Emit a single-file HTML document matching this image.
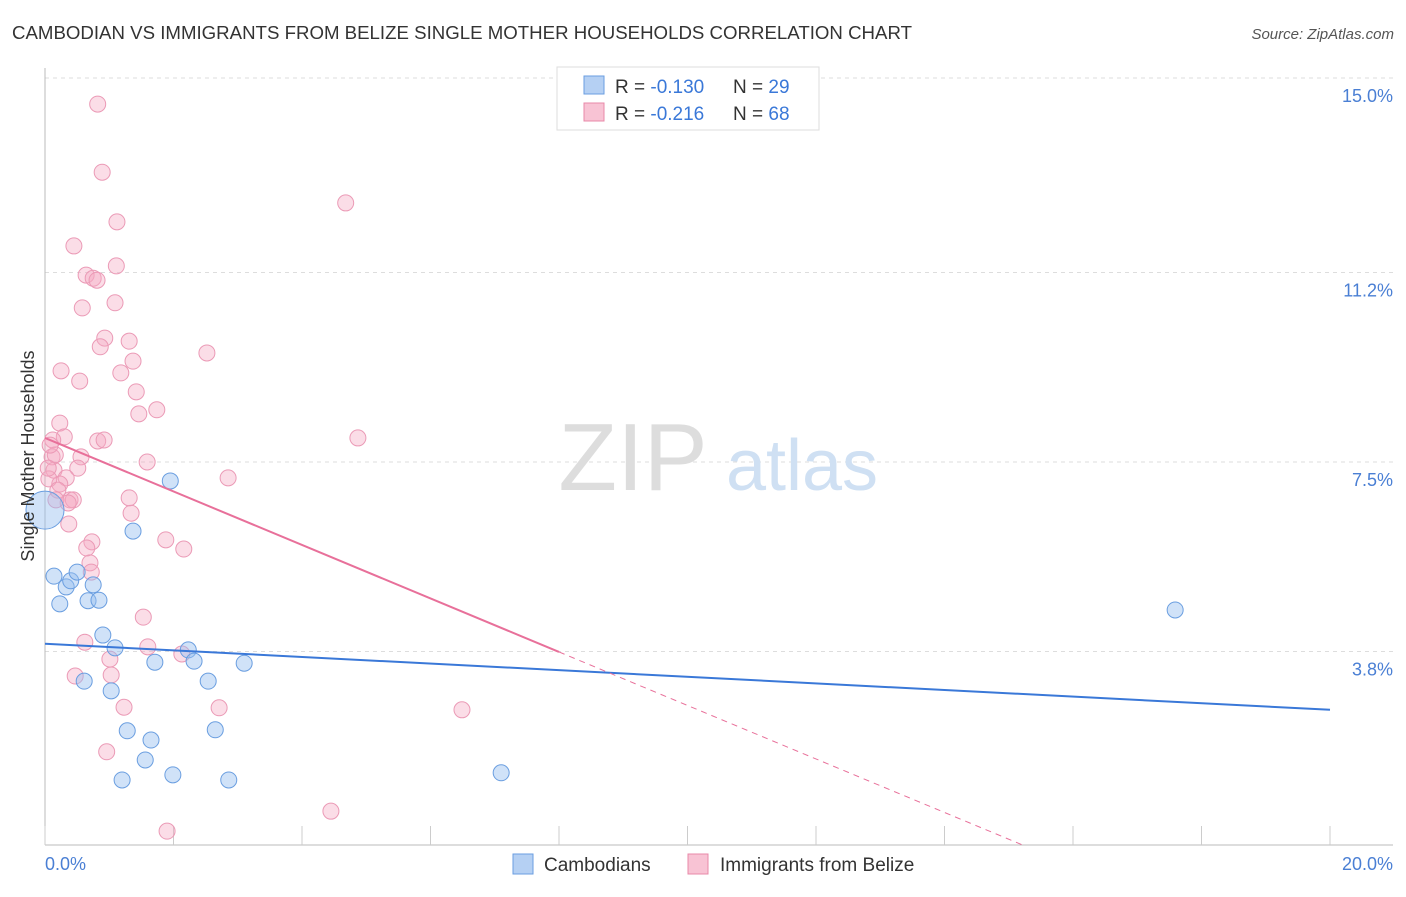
<!DOCTYPE html>
<html><head><meta charset="utf-8">
<style>
body{margin:0;background:#fff;font-family:"Liberation Sans",sans-serif;}
svg text{font-family:"Liberation Sans",sans-serif;}
</style></head>
<body>
<svg width="1406" height="892" viewBox="0 0 1406 892" xmlns="http://www.w3.org/2000/svg">
<text x="12" y="39" font-size="18" fill="#333" textLength="900" lengthAdjust="spacingAndGlyphs">CAMBODIAN VS IMMIGRANTS FROM BELIZE SINGLE MOTHER HOUSEHOLDS CORRELATION CHART</text>
<text x="1394" y="39" font-size="15" fill="#555" font-style="italic" text-anchor="end">Source: ZipAtlas.com</text>
<g id="grid"></g>
<g id="wm">
<text x="633" y="490" font-size="96" fill="#ddd" text-anchor="middle" font-family="Liberation Serif">ZIP</text>
<text x="802" y="490" font-size="72" fill="#cfe0f3" text-anchor="middle">atlas</text>
</g>
<line x1="45" y1="68" x2="45" y2="845" stroke="#bbb"/>
<line x1="45" y1="845" x2="1393" y2="845" stroke="#bbb"/>
<g id="xticks"></g>
<g id="ylabels"></g>
<g id="pts"></g>
<g id="lines"></g>
<text x="45" y="870" font-size="18" fill="#4a7fd4">0.0%</text>
<text x="1393" y="870" font-size="18" fill="#4a7fd4" text-anchor="end">20.0%</text>
<text transform="translate(34,456) rotate(-90)" font-size="18" fill="#333" text-anchor="middle">Single Mother Households</text>
<g>
<rect x="557" y="67" width="262" height="63" fill="#fff" stroke="#ddd"/>
<rect x="584" y="76" width="20" height="18" fill="#b5d0f3" stroke="#6a9ee0"/>
<rect x="584" y="103" width="20" height="18" fill="#f8c3d4" stroke="#e888a8"/>
<text x="615" y="93" font-size="19" fill="#333">R = <tspan fill="#3a78d8">-0.130</tspan></text>
<text x="733" y="93" font-size="19" fill="#333">N = <tspan fill="#3a78d8">29</tspan></text>
<text x="615" y="120" font-size="19" fill="#333">R = <tspan fill="#3a78d8">-0.216</tspan></text>
<text x="733" y="120" font-size="19" fill="#333">N = <tspan fill="#3a78d8">68</tspan></text>
</g>
<g>
<rect x="513" y="854" width="20" height="20" fill="#b5d0f3" stroke="#6a9ee0"/>
<text x="544" y="871" font-size="19" fill="#333">Cambodians</text>
<rect x="688" y="854" width="20" height="20" fill="#f8c3d4" stroke="#e888a8"/>
<text x="720" y="871" font-size="19" fill="#333">Immigrants from Belize</text>
</g>
</svg>
<script>
const yTicks=[3.8,7.5,11.2,15.0];
const yTickLabels=["3.8%","7.5%","11.2%","15.0%"];
const xTicks=[0,2,4,6,8,10,12,14,16,18,20];
const camX=[0,0.14,0.23,0.33,0.40,0.50,0.67,0.75,0.84,0.90,1.09,0.61,1.03,1.28,1.65,1.56,1.20,1.99,2.86,1.71,2.23,2.32,2.54,2.65,3.10,1.95,1.37,7.10,17.59];
const camY=[6.56,5.27,4.73,5.06,5.18,5.35,4.79,5.10,4.80,4.12,3.87,3.22,3.03,2.25,2.07,1.68,1.29,1.39,1.29,3.59,3.83,3.61,3.22,2.27,3.57,7.13,6.15,1.43,4.61];
const belX=[0.82,0.89,4.68,1.12,0.45,0.64,0.75,0.81,1.11,1.09,0.58,0.93,0.86,1.31,2.52,1.37,0.25,1.18,0.54,1.42,1.74,1.46,0.23,0.30,0.12,0.82,0.92,4.87,0.56,0.11,1.59,0.51,0.14,0.33,0.23,0.06,2.85,0.20,0.39,0.44,0.36,1.31,1.34,0.37,1.88,2.16,0.73,0.65,0.70,0.72,1.53,0.62,1.60,2.13,1.01,0.47,1.03,1.23,2.71,6.49,0.96,4.45,1.90,0.16,0.05,0.08,0.17];
const belY=[14.49,13.16,12.56,12.19,11.72,11.15,11.09,11.05,11.33,10.61,10.51,9.92,9.75,9.86,9.63,9.47,9.28,9.24,9.08,8.87,8.52,8.44,8.26,7.99,7.93,7.91,7.93,7.97,7.60,7.60,7.50,7.38,7.34,7.19,7.07,7.17,7.19,6.95,6.76,6.76,6.70,6.80,6.50,6.29,5.98,5.80,5.94,5.82,5.53,5.35,4.47,3.98,3.89,3.75,3.65,3.32,3.34,2.71,2.70,2.66,1.84,0.68,0.29,7.64,7.38,7.83,6.76];
const camTrend=[3.95,-0.0645];
const belTrend=[7.97,-0.5225];
const X=v=>45+v*64.25, Y=v=>846-v*51.2;
const NS="http://www.w3.org/2000/svg";
function mk(tag,attrs,parent){const e=document.createElementNS(NS,tag);for(const k in attrs)e.setAttribute(k,attrs[k]);document.getElementById(parent).appendChild(e);return e;}
yTicks.forEach((t,i)=>{
 const l=mk('line',{x1:45,x2:1393,y1:Y(t),y2:Y(t),stroke:'#ddd','stroke-dasharray':'4,4'},'grid');
 
 
 const tx=mk('text',{x:1393,y:Y(t)+24,'font-size':18,fill:'#4a7fd4','text-anchor':'end'},'ylabels');
 tx.textContent=yTickLabels[i];
 
 
});
xTicks.forEach(t=>{
 const l=mk('line',{x1:X(t),x2:X(t),y1:826,y2:845,stroke:'#ccc'},'xticks');
 
 
});
belX.forEach((x,i)=>{
 const c=mk('circle',{cx:X(x),cy:Y(belY[i]),r:8,fill:'rgba(245,170,196,0.4)',stroke:'#eb9ab6','stroke-width':1},'pts');
 
 
});
camX.forEach((x,i)=>{
 const c=mk('circle',{cx:X(x),cy:Y(camY[i]),r:i===0?19:8,fill:'rgba(150,190,240,0.45)',stroke:'#6a9ee0','stroke-width':1},'pts');
 
 
});
const cl=mk('line',{x1:X(0),y1:Y(camTrend[0]),x2:X(20),y2:Y(camTrend[0]+camTrend[1]*20),stroke:'#3a78d8','stroke-width':2},'lines');


const xs=8, xe=-belTrend[0]/belTrend[1];
const bl=mk('line',{x1:X(0),y1:Y(belTrend[0]),x2:X(xs),y2:Y(belTrend[0]+belTrend[1]*xs),stroke:'#e8709a','stroke-width':2},'lines');


const bd=mk('line',{x1:X(xs),y1:Y(belTrend[0]+belTrend[1]*xs),x2:X(xe),y2:Y(0),stroke:'#e8709a','stroke-width':1,'stroke-dasharray':'6,5'},'lines');


</script>
</body></html>
